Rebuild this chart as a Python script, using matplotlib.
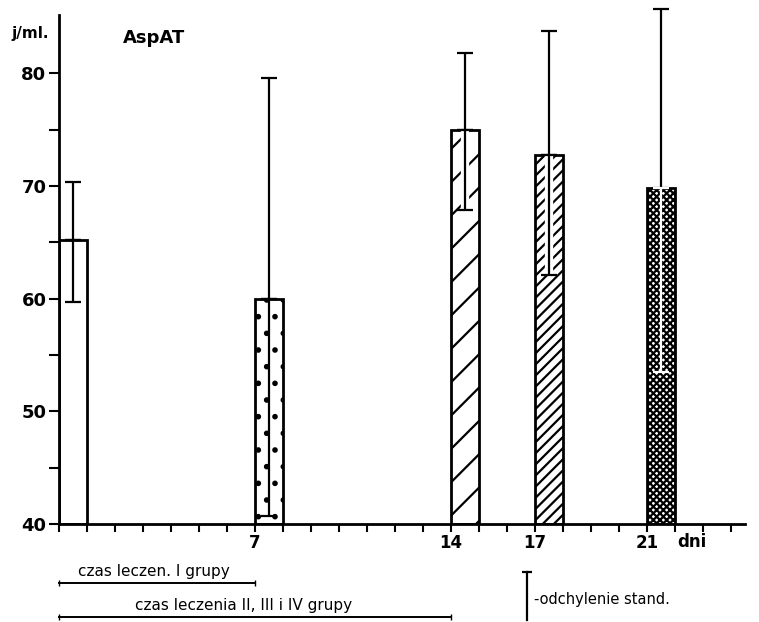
import matplotlib
matplotlib.use('Agg')
import matplotlib.pyplot as plt
import matplotlib.patheffects as pe

days = [0, 7, 14, 17, 21]
means = [65.2, 60.0, 75.0, 72.7, 69.8]
sd_top = [70.3, 79.6, 81.8, 83.7, 85.7]
sd_bottom = [59.7, 40.7, 67.9, 62.1, 53.5]
hatches = ['', '.', '/', '///', 'xxxxx']
tick_days = [7, 14, 17, 21]

plt.rcParams['font.family'] = ['DejaVu Sans']
plt.rcParams['hatch.linewidth'] = 1.6

fig = plt.figure(figsize=(7.59, 6.22), dpi=100)
ax = fig.add_axes([59/759, 98/622, 686/759, 509/622])
ax.set_xlim(0, 24.5)
ax.set_ylim(40, 85.16)

for d, m, h in zip(days, means, hatches):
    ax.bar(d, m - 40, bottom=40, width=1, align='edge', facecolor='white',
           edgecolor='black', linewidth=2, hatch=h, zorder=2)

for i, (d, m, t, b) in enumerate(zip(days, means, sd_top, sd_bottom)):
    x = d + 0.5
    # part above the bar top
    ax.errorbar([x], [m], yerr=[[0], [t - m]], fmt='none', ecolor='black',
                elinewidth=1.6, capsize=6, capthick=1.6, zorder=4, clip_on=False)
    if i == 4:
        ax.errorbar([x], [m], yerr=[[m - b], [0]], fmt='none', ecolor='white',
                    elinewidth=1.6, capsize=6, capthick=1.6, zorder=4)
    else:
        eb = ax.errorbar([x], [m], yerr=[[m - b], [0]], fmt='none', ecolor='black',
                         elinewidth=1.6, capsize=6, capthick=1.6, zorder=4)
        if i in (2, 3):
            for art in eb.lines[2]:
                art.set_path_effects([pe.withStroke(linewidth=6, foreground='white')])

for s in ['top', 'right']:
    ax.spines[s].set_visible(False)
ax.spines['left'].set_linewidth(2)
ax.spines['bottom'].set_linewidth(2)

ax.set_yticks([40, 50, 60, 70, 80])
ax.set_yticks([45, 55, 65, 75], minor=True)
ax.set_xticks(range(0, 25))
ax.set_xticklabels([str(d) if d in tick_days else '' for d in range(0, 25)])
ax.tick_params(axis='y', which='both', direction='out', length=7, width=1.5,
               labelsize=13, pad=2)
ax.tick_params(axis='x', which='both', direction='out', length=6, width=1.5,
               labelsize=12, pad=1)
for lab in ax.get_yticklabels() + ax.get_xticklabels():
    lab.set_fontweight('bold')

tr = ax.get_xaxis_transform()
ax.text(22.6, -0.035, 'dni', transform=tr, ha='center', va='center',
        fontsize=12, fontweight='bold')
ax.text(-0.042, 0.963, 'j/ml.', transform=ax.transAxes, ha='center', va='center',
        fontsize=11, fontweight='bold')
ax.text(2.3, 0.955, 'AspAT', transform=tr, ha='left', va='center',
        fontsize=13, fontweight='bold')

# treatment periods below the axis
ax.text(3.4, -0.094, 'czas leczen. I grupy', transform=tr, ha='center',
        va='center', fontsize=11)
ax.plot([0, 7], [-0.116, -0.116], transform=tr, color='black', lw=1.4,
        marker='|', markersize=5, clip_on=False)
ax.text(6.6, -0.161, 'czas leczenia II, III i IV grupy', transform=tr,
        ha='center', va='center', fontsize=11)
ax.plot([0, 14], [-0.183, -0.183], transform=tr, color='black', lw=1.4,
        marker='|', markersize=5, clip_on=False)

# legend mark
ax.plot([16.7, 16.7], [-0.094, -0.189], transform=tr, color='black', lw=1.6,
        clip_on=False)
ax.plot([16.7], [-0.094], transform=tr, color='black', marker='_',
        markersize=7, mew=1.6, clip_on=False)
ax.text(16.95, -0.149, '-odchylenie stand.', transform=tr, ha='left',
        va='center', fontsize=10.5)

fig.savefig('out.png', dpi=100)
